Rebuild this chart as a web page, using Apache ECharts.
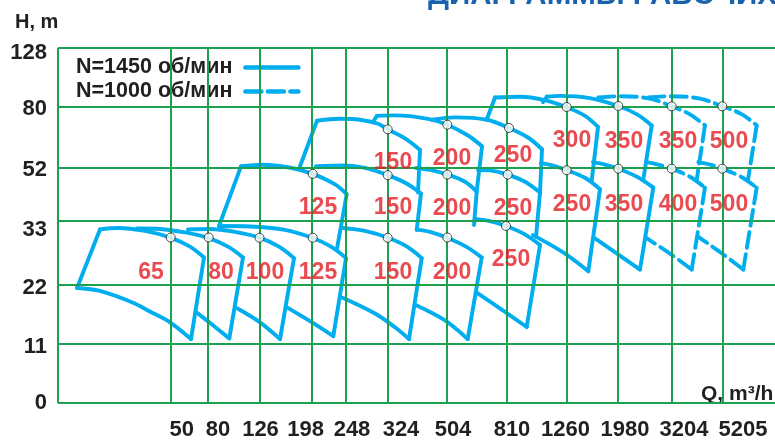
<!DOCTYPE html>
<html><head><meta charset="utf-8">
<script src="https://cdn.jsdelivr.net/npm/echarts@6/dist/echarts.min.js"></script>
<style>html,body{margin:0;padding:0;background:#fff}#c{width:775px;height:441px}</style>
</head><body><div id="c"></div>
<script>
// ---- axis ticks (axis position units) ----
const hTickLabels = ['0','11','22','33','52','80','128'];
const hGridPos   = [0, 60, 120, 185.5, 239.7, 301.3, 361];
const hLabelPos  = [0, 57.5, 117.5, 175.5, 237.5, 299, 355.5];
const qTickLabels = ['50','80','126','198','248','324','504','810','1260','1980','3204','5205'];
const qGridPos    = [0, 113, 150, 202, 254, 288, 330, 389, 449, 509, 560, 614, 665];
const qLabelPos   = [123.7, 160, 202.5, 247.6, 294, 343, 395, 454, 507.5, 567, 626, 685];

// ---- N=1450 rpm: head curves (max/min impeller) ----
const bottomTops1450 = [
  [[42,176.5],[60,178],[87,175],[113,168],[132,159],[146,148]],
  [[79,177.5],[102,177],[127,173.5],[150,168],[170,159],[185,148]],
  [[130,176.5],[152,177],[177,174],[202,168],[221,159],[236,147.3]],
  [[161,180],[192,179.5],[227,176],[254,168],[273,159],[288,147.3]],
  [[285,178],[307,175],[330,168],[349,159],[363.7,147.3]],
  [[358.7,176.3],[372,174],[389,168],[408,159],[423.7,148]],
  [[418.7,187],[432,185],[448,180],[466,172],[482,160.7]]
];
const bottomBottoms1450 = [
  [[133,65],[112,82],[92,93],[75,102],[42,114],[19,117]],
  [[171.3,65.7],[155,79],[139,91.7]],
  [[222,65],[202,82],[179,96.3]],
  [[275.3,68],[254,82],[229,97.3]],
  [[351,65],[337,77],[317,91],[284,107.3]],
  [[409.7,65],[387,84],[357.7,99.7]],
  [[468.7,77.3],[443.7,95],[418.7,112.3]]
];
const middleTops1450 = [
  [[183,240.7],[204,242.3],[233.7,239],[254.7,233],[277,222.3],[288.7,212.3]],
  [[258,240.7],[287,241.5],[307,239],[329.7,231.7],[349,223],[363,213]],
  [[358,239],[372,237],[389.3,232.3],[407,225],[418.7,215]],
  [[420,237],[432,236.5],[449.7,232.3],[467,225],[482,214]],
  [[483,244],[497,241],[508.7,236.7],[527,229],[542,217.3]],
  [[535,245],[547,242.5],[560.3,238.3],[579,230],[595.3,219]]
];
const middleBottoms1450 = [
  [[530.3,134],[507,152],[475,170.7]],
  [[582,135.7],[559,152],[537,167.3]]
];
const topTops1450 = [
  [[259,287],[282,289],[302,288],[320,284],[329.7,278.3],[347,269],[362,257.3]],
  [[319,292],[337,292.5],[370,289],[389.3,283],[410,272],[424,261]],
  [[374,288],[397,290.5],[429,288],[451,279.7],[470,270],[484,258]],
  [[437,310.7],[462,311.5],[487,308],[508.7,300.7],[527,292],[540,280.7]],
  [[489,311.5],[502,312.3],[532,310],[560.3,302],[579,293.5],[593.7,282.3]]
];
const edges1450 = [
  [[19,117],[42,176.5]],
  [[146,148],[133,65]],
  [[185,148],[171.3,65.7]],
  [[236,147.3],[222,65]],
  [[288,147.3],[275.3,68]],
  [[363.7,147.3],[351,65]],
  [[423.7,148],[409.7,65]],
  [[482,160.7],[468.7,77.3]],
  [[161,180],[183,240.7]],
  [[288.7,212.3],[279,157]],
  [[363,213],[358.7,176]],
  [[418.7,215],[416,181]],
  [[482,214],[478,169]],
  [[542,217.3],[530.3,134]],
  [[595.3,219],[582,135.7]],
  [[242,240.7],[259,287]],
  [[362,257.3],[360,214]],
  [[315,286],[319,292]],
  [[424,261],[418.7,215]],
  [[484,258],[482,214]],
  [[428.7,288],[437,310.7]],
  [[540,280.7],[533.7,226]],
  [[485,306],[489,311.5]],
  [[593.7,282.3],[585.3,227]]
];

// ---- N=1000 rpm ----
const curves1000 = [
  [[588.7,245],[600,242.5],[613.7,238.3],[632,230],[647,219]],
  [[640.3,245],[652,242.5],[664.3,238.3],[683,230],[698.7,219]],
  [[633.7,135.7],[612,152],[589,167.3]],
  [[685.3,135.7],[664,152],[640.3,169]],
  [[540.3,310.7],[562,312],[592,309.5],[613.7,301.7],[632,293.5],[647,282.3]],
  [[590.3,310.7],[612,312],[642,309.5],[664.3,301.7],[684,293.5],[698.7,282.3]]
];
const edges1000 = [
  [[647,219],[633.7,135.7]],
  [[698.7,219],[685.3,135.7]],
  [[647,282.3],[638.7,227]],
  [[698.7,282.3],[690,227]]
];

// ---- operating points ----
const dutyPoints = [
  [112.7,168.3],[150.7,168.3],[201.5,168],[254.7,168],[329.7,168],[389.3,168.3],[448,180],
  [254.7,233],[329.7,231.7],[389.3,232.3],[449.7,232.3],[508.7,236.7],[560.3,238.3],[613.7,238.3],[664.3,238.3],
  [329.7,278.3],[389.3,283],[451,279.7],[508.7,301],[560.3,302],[613.7,301.7],[664.3,301.7]
];

// ---- pump size labels ----
const sizeLabels = [
  [335,247,'150'],[394,251,'200'],[455,254,'250'],[514,269,'300'],[566,268,'350'],[620,268,'350'],[671,268,'500'],
  [260,201,'125'],[335,201,'150'],[394,200,'200'],[455,200,'250'],[514,204,'250'],[566,204,'350'],[620,204,'400'],[671,204,'500'],
  [93,135,'65'],[163,135,'80'],[207,135,'100'],[260,135,'125'],[335,135,'150'],[394,135,'200'],[453,148,'250']
];

const NAME1 = 'N=1450 об/мин', NAME2 = 'N=1000 об/мин';
const FONT = '"Liberation Sans", Arial, Helvetica, sans-serif';
const BLUE = '#00aeef', GREEN = '#1da14f', INK = '#231f20';

const series = [];
function addLines(list, name, dashed, smooth) {
  list.forEach(pts => series.push({
    type: 'line', name: name, data: pts, smooth: smooth ? 0.35 : false,
    symbol: 'none', silent: true, z: 3,
    itemStyle: { color: BLUE },
    lineStyle: { color: BLUE, width: 3.9, type: dashed ? [16, 6.5] : 'solid', cap: 'round', join: 'round' }
  }));
}
addLines(bottomTops1450, NAME1, false, true);
addLines(bottomBottoms1450, NAME1, false, true);
addLines(middleTops1450, NAME1, false, true);
addLines(middleBottoms1450, NAME1, false, true);
addLines(topTops1450, NAME1, false, true);
addLines(edges1450, NAME1, false, false);
addLines(curves1000, NAME2, true, true);
addLines(edges1000, NAME2, true, false);

// grid lines
series.push({
  type: 'line', name: 'grid', data: [[0, 0]], symbol: 'none', silent: true, z: 1,
  lineStyle: { opacity: 0 },
  markLine: {
    silent: true, symbol: ['none', 'none'], label: { show: false }, animation: false,
    lineStyle: { color: GREEN, width: 2, type: 'solid' },
    emphasis: { disabled: true },
    data: qGridPos.map(v => ({ xAxis: v })).concat(hGridPos.map(v => ({ yAxis: v })))
  }
});
series.push({
  type: 'scatter', name: 'points', data: dutyPoints, symbol: 'circle', symbolSize: 9, silent: true, z: 5,
  itemStyle: { color: '#fff', borderColor: INK, borderWidth: 1 }
});
series.push({
  type: 'scatter', name: 'labels', symbolSize: 0, silent: true, z: 6,
  data: sizeLabels.map(d => ({ value: [d[0], d[1]], name: d[2] })),
  label: { show: true, position: 'inside', offset: [0, 2.5], formatter: p => p.name, color: '#e41e25',
    fontSize: 23, fontWeight: 'bold', fontFamily: FONT }
});

function nearestLabel(v, pos, labels) {
  let best = -1, bd = 1e9;
  pos.forEach((p, i) => { const d = Math.abs(p - v); if (d < bd) { bd = d; best = i; } });
  return bd < 0.5 ? labels[best] : '';
}

const chart = echarts.init(document.getElementById('c'));
chart.setOption({
  animation: false,
  backgroundColor: '#fff',
  grid: { left: 58, right: 0, top: 48, bottom: 32 },
  xAxis: {
    type: 'value', min: 0, max: 717,
    axisLine: { show: false }, axisTick: { show: false }, splitLine: { show: false },
    axisLabel: { customValues: qLabelPos, formatter: v => nearestLabel(v, qLabelPos, qTickLabels),
      margin: 16, color: INK, fontSize: 22, fontWeight: 'bold', fontFamily: FONT }
  },
  yAxis: {
    type: 'value', min: 0, max: 361,
    axisLine: { show: false }, axisTick: { show: false }, splitLine: { show: false },
    axisLabel: { customValues: hLabelPos, formatter: v => nearestLabel(v, hLabelPos, hTickLabels),
      margin: 11, color: INK, fontSize: 22, fontWeight: 'bold', fontFamily: FONT }
  },
  legend: {
    data: [NAME1, NAME2], orient: 'vertical', align: 'right', left: 76, top: 55.5, padding: 0,
    itemWidth: 53, itemHeight: 14, itemGap: 0, selectedMode: false,
    itemStyle: { opacity: 0 },
    lineStyle: { width: 4.5 },
    textStyle: { fontSize: 21.5, lineHeight: 24, fontWeight: 'bold', color: INK, fontFamily: FONT, padding: [0, 8, 0, 0] }
  },
  graphic: [
    { type: 'text', x: 15, y: 12, silent: true, style: { text: 'H, m', font: 'bold 20px ' + FONT, fill: INK } },
    { type: 'text', x: 701, y: 384, silent: true, style: { text: 'Q, m³/h', font: 'bold 21px ' + FONT, fill: INK } },
    { type: 'text', x: 428, y: -19, silent: true, style: { text: 'ДИАГРАММЫ РАБОЧИХ ПОЛЕЙ', font: 'bold 29.5px ' + FONT, fill: '#1b62ad' } }
  ],
  series: series
});
</script>
</body></html>
